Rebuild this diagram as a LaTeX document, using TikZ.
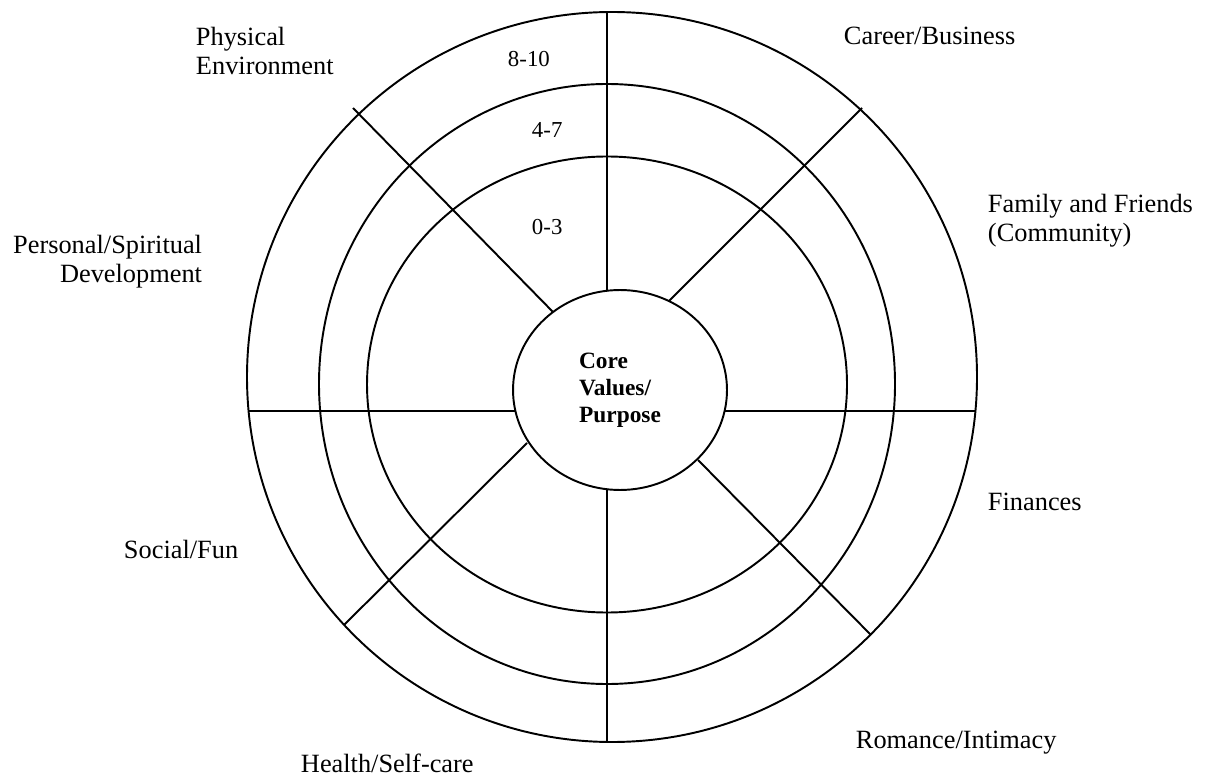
\documentclass[tikz,border=0pt]{standalone}
\usepackage{fontspec}
\setmainfont{Liberation Serif}
\usetikzlibrary{shapes.geometric}

\begin{document}
\begin{tikzpicture}[x=0.02cm, y=-0.02cm, line width=1.1pt,
    area/.style={font=\fontsize{15}{17}\selectfont, inner sep=0pt, anchor=base west, align=left},
    score/.style={font=\fontsize{13}{15}\selectfont, inner sep=0pt, anchor=base west}]
    \useasboundingbox (0,0) rectangle (1212,776);
    \draw (612,377) ellipse [x radius=365, y radius=365];
    \draw (607,384) ellipse [x radius=288, y radius=300];
    \draw (607,384.5) ellipse [x radius=240, y radius=228];
    \node[draw, ellipse, fill=white, minimum width=4.28cm, minimum height=4cm, inner sep=0pt,
          align=left, font=\fontsize{13.3}{15.3}\selectfont\bfseries] (core) at (620,390)
          {Core\\Values/\\Purpose};
    \draw (607,12) -- (607,291);
    \draw (607,489) -- (607,741);
    \draw (248,411) -- (515,411);
    \draw (725,411) -- (976,411);
    \draw (353,108) -- (553,312);
    \draw (862,108) -- (669,301);
    \draw (527,443) -- (344,625);
    \draw (698,460) -- (871,635);
    \node[score] (high) at (507,67) {8-10};
    \node[score] (mid) at (531,138) {4-7};
    \node[score] (low) at (531,235) {0-3};
    \node[area] (physical) at (195,75) {Physical\\Environment};
    \node[area, anchor=base east, align=right] (personal) at (203,283) {Personal/Spiritual\\Development};
    \node[area] (career) at (843,45) {Career/Business};
    \node[area] (family) at (987,242) {Family and Friends\\(Community)};
    \node[area] (finances) at (987,510) {Finances};
    \node[area] (romance) at (855,748) {Romance/Intimacy};
    \node[area] (health) at (300,772) {Health/Self-care};
    \node[area] (social) at (123,558) {Social/Fun};
\end{tikzpicture}
\end{document}
